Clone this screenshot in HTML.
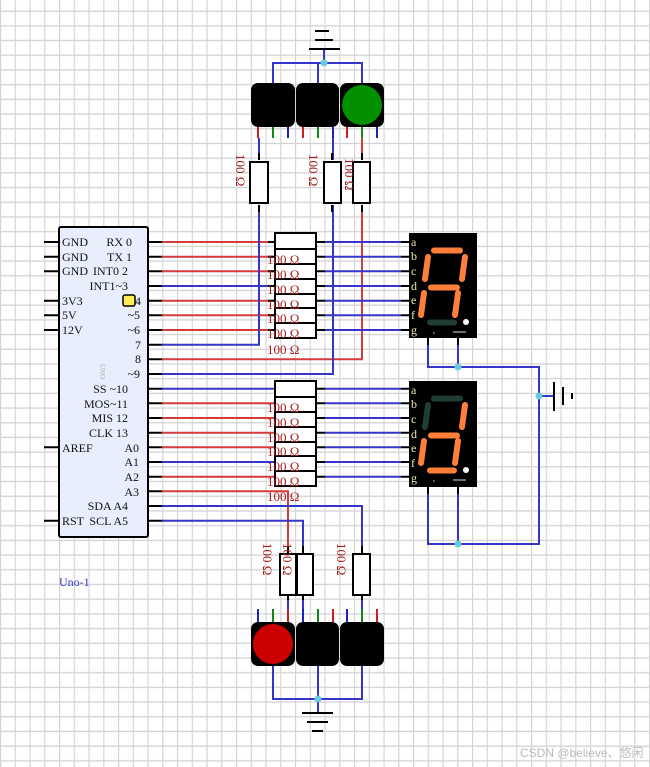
<!DOCTYPE html>
<html><head><meta charset="utf-8"><style>
html,body{margin:0;padding:0;background:#fff}
svg{display:block}
text{font-family:"Liberation Serif",serif}
</style></head><body>
<svg width="650" height="767" viewBox="0 0 650 767" xmlns="http://www.w3.org/2000/svg">
<defs>
<pattern id="g" x="0" y="-2" width="14.75" height="14.7" patternUnits="userSpaceOnUse">
<path d="M0.5 0V14.7M0 13.2H14.75" stroke="#d4d4d4" stroke-width="1.3" fill="none"/>
</pattern>
</defs>
<rect width="650" height="767" fill="url(#g)"/>

<!-- Arduino -->
<rect x="59" y="227" width="89" height="310" rx="2" fill="#e8eefc" stroke="#000" stroke-width="2"/>
<g stroke="#000" stroke-width="2">
<path d="M44 242H59M44 256.7H59M44 271.3H59M44 300.7H59M44 315.3H59M44 330H59M44 447.3H59M44 520.7H59"/>
<path d="M148 242H162M148 256.7H162M148 271.3H162M148 286H162M148 300.7H162M148 315.3H162M148 330H162M148 344.7H162M148 359.3H162M148 374H162M148 388.7H162M148 403.3H162M148 418H162M148 432.7H162M148 447.3H162M148 462H162M148 476.7H162M148 491.3H162M148 506H162M148 520.7H162"/>
</g>
<g font-size="12" fill="#111">
<text x="62" y="246">GND</text><text x="62" y="261">GND</text><text x="62" y="275">GND</text>
<text x="62" y="305">3V3</text><text x="62" y="319">5V</text><text x="62" y="334">12V</text>
<text x="62" y="452">AREF</text><text x="62" y="525">RST</text>
</g>
<g font-size="12" fill="#111" text-anchor="end">
<text x="132" y="246">RX 0</text><text x="132" y="261">TX 1</text><text x="128" y="275">INT0 2</text>
<text x="128" y="290">INT1~3</text><text x="141" y="305">4</text><text x="140" y="319">~5</text>
<text x="140" y="334">~6</text><text x="141" y="349">7</text><text x="141" y="363">8</text>
<text x="140" y="378">~9</text><text x="128" y="393">SS ~10</text><text x="128" y="408">MOS~11</text>
<text x="128" y="422">MIS 12</text><text x="128" y="437">CLK 13</text><text x="139" y="452">A0</text>
<text x="139" y="466">A1</text><text x="139" y="481">A2</text><text x="139" y="496">A3</text>
<text x="128" y="510">SDA A4</text><text x="128" y="525">SCL A5</text>
</g>
<rect x="123" y="295" width="12" height="11" rx="2" fill="#ffee55" stroke="#000" stroke-width="1.5"/>
<text x="100" y="364" font-size="7" fill="#aaa" transform="rotate(90 100 364)">UNO</text>
<text x="59" y="586" font-size="12" fill="#3333cc">Uno-1</text>

<!-- wires from Arduino -->
<g stroke-width="2" fill="none">
<g stroke="#d63a3a">
<path d="M162 242H275M162 256.7H275M162 271.3H275M162 300.7H275M162 315.3H275M162 330H275"/>
<path d="M162 359.3H362V205"/>
<path d="M162 403.3H275M162 418H275M162 432.7H275M162 447.3H275M162 476.7H275"/>
<path d="M162 491.3H288V553"/>
<path d="M362 138V160"/>
</g>
<g stroke="#3535cc">
<path d="M162 286H275"/>
<path d="M162 344.7H259V205"/>
<path d="M162 374H333V205"/>
<path d="M162 388.7H275M162 462H275"/>
<path d="M162 506H362V553"/>
<path d="M162 520.7H303V553"/>
<path d="M259 138V160M333 138V160"/>
<path d="M303 594V609M362 594V609"/>
<path d="M325 242H401M325 256.7H401M325 271.3H401M325 286H401M325 300.7H401M325 315.3H401M325 330H401"/>
<path d="M325 388.7H401M325 403.3H401M325 418H401M325 432.7H401M325 447.3H401M325 462H401M325 476.7H401"/>
<path d="M428 338V367H458V338M458 367H539V544H458V487M458 544H428V487"/>
<path d="M539 396H553"/>
<path d="M273 83V63H362V83M318 83V63M324 63V50"/>
<path d="M273 666V699H362V666M318 666V712"/>
<path d="M288 594V609"/>
</g>
</g>
<!-- black stubs -->
<g stroke="#000" stroke-width="2">
<path d="M316 242H325M316 256.7H325M316 271.3H325M316 286H325M316 300.7H325M316 315.3H325M316 330H325"/>
<path d="M316 388.7H325M316 403.3H325M316 418H325M316 432.7H325M316 447.3H325M316 462H325M316 476.7H325"/>
<path d="M401 242H410M401 256.7H410M401 271.3H410M401 286H410M401 300.7H410M401 315.3H410M401 330H410"/>
<path d="M401 388.7H410M401 403.3H410M401 418H410M401 432.7H410M401 447.3H410M401 462H410M401 476.7H410"/>
<path d="M268 242H275M268 256.7H275M268 271.3H275M268 286H275M268 300.7H275M268 315.3H275M268 330H275"/>
</g>

<!-- resistor packs -->
<g fill="#fff" stroke="#000" stroke-width="2">
<rect x="275" y="233" width="41" height="16"/>
<rect x="275" y="249" width="41" height="15"/><rect x="275" y="264" width="41" height="15"/>
<rect x="275" y="279" width="41" height="15"/><rect x="275" y="294" width="41" height="14"/>
<rect x="275" y="308" width="41" height="15"/><rect x="275" y="323" width="41" height="15"/>
<rect x="275" y="381" width="41" height="16"/>
<rect x="275" y="397" width="41" height="15"/><rect x="275" y="412" width="41" height="15"/>
<rect x="275" y="427" width="41" height="15"/><rect x="275" y="442" width="41" height="14"/>
<rect x="275" y="456" width="41" height="15"/><rect x="275" y="471" width="41" height="15"/>
</g>
<g font-size="13" fill="#a02020">
<text x="267" y="264">100  Ω</text><text x="267" y="279">100  Ω</text><text x="267" y="294">100  Ω</text>
<text x="267" y="309">100  Ω</text><text x="267" y="323">100  Ω</text><text x="267" y="338">100  Ω</text>
<text x="267" y="354">100  Ω</text>
<text x="267" y="412">100  Ω</text><text x="267" y="427">100  Ω</text><text x="267" y="442">100  Ω</text>
<text x="267" y="456">100  Ω</text><text x="267" y="471">100  Ω</text><text x="267" y="486">100  Ω</text>
<text x="267" y="501">100  Ω</text>
</g>

<!-- single resistors -->
<g stroke="#000" stroke-width="2" fill="#fff">
<path d="M259 153V160M259 205V212M332 153V160M332 205V212M362 153V160M362 205V212" fill="none"/>
<rect x="250" y="162" width="18" height="41"/>
<rect x="324" y="162" width="17" height="41"/>
<rect x="353" y="162" width="17" height="41"/>
<path d="M288 546V555M288 594V600M303 546V555M303 594V600M362 546V555M362 594V600" fill="none"/>
<rect x="280" y="554" width="16" height="41"/>
<rect x="297" y="554" width="16" height="41"/>
<rect x="353" y="554" width="17" height="41"/>
</g>
<g font-size="13" fill="#a02020">
<text transform="translate(236,154) rotate(90)">100  Ω</text>
<text transform="translate(309,154) rotate(90)">100  Ω</text>
<text transform="translate(345,158) rotate(90)">100  Ω</text>
<text transform="translate(263,543) rotate(90)">100  Ω</text>
<text transform="translate(283,543) rotate(90)">100  Ω</text>
<text transform="translate(337,543) rotate(90)">100  Ω</text>
</g>

<!-- top LEDs -->
<g stroke-width="2">
<path d="M258 127V138" stroke="#cc2020"/><path d="M273 127V138" stroke="#118811"/><path d="M288 127V138" stroke="#2222bb"/>
<path d="M303 127V138" stroke="#cc2020"/><path d="M318 127V138" stroke="#118811"/><path d="M333 127V138" stroke="#2222bb"/>
<path d="M347 127V138" stroke="#cc2020"/><path d="M362 127V138" stroke="#118811"/><path d="M377 127V138" stroke="#2222bb"/>
</g>
<rect x="251" y="83" width="44" height="44" rx="7" fill="#000"/>
<rect x="296" y="83" width="43" height="44" rx="7" fill="#000"/>
<rect x="340" y="83" width="44" height="44" rx="7" fill="#000"/>
<circle cx="362" cy="105" r="20" fill="#009000"/>
<g stroke="#000" stroke-width="2">
<path d="M315 31H329M315 40H333M309 49H340"/>
</g>
<circle cx="324" cy="63" r="3.5" fill="#66ccdd"/>

<!-- bottom LEDs -->
<g stroke-width="2">
<path d="M258 609V622" stroke="#2222bb"/><path d="M273 609V622" stroke="#118811"/><path d="M288 609V622" stroke="#cc2020"/>
<path d="M303 609V622" stroke="#2222bb"/><path d="M318 609V622" stroke="#118811"/><path d="M333 609V622" stroke="#cc2020"/>
<path d="M347 609V622" stroke="#2222bb"/><path d="M362 609V622" stroke="#118811"/><path d="M377 609V622" stroke="#cc2020"/>
</g>
<rect x="251" y="622" width="44" height="44" rx="7" fill="#000"/>
<rect x="296" y="622" width="43" height="44" rx="7" fill="#000"/>
<rect x="340" y="622" width="44" height="44" rx="7" fill="#000"/>
<circle cx="273" cy="644" r="20" fill="#cc0000"/>
<g stroke="#000" stroke-width="2">
<path d="M302 713H333M307 722H328M312 731H323"/>
</g>
<circle cx="318" cy="699" r="3.5" fill="#66ccdd"/>

<!-- 7-seg displays -->
<g>
<rect x="409" y="233" width="68" height="105" fill="#000"/>
<rect x="409" y="381" width="68" height="106" fill="#000"/>
<g font-size="12" fill="#eee8b0">
<text x="411" y="246">a</text><text x="411" y="260">b</text><text x="411" y="275">c</text><text x="411" y="290">d</text><text x="411" y="304">e</text><text x="411" y="319">f</text><text x="411" y="334">g</text>
<text x="411" y="394">a</text><text x="411" y="408">b</text><text x="411" y="423">c</text><text x="411" y="438">d</text><text x="411" y="452">e</text><text x="411" y="467">f</text><text x="411" y="482">g</text>
</g>
<g stroke-linecap="round" stroke-width="6" fill="none">
<g stroke="#ff7f3a">
<path d="M434 250.5H460M428 257L425 279M465 257L462 279M431 287.5H457M424 293L421 315M458 293L455 315"/>
</g>
<path d="M430 322.5H454" stroke="#1f3d33"/>
<path d="M434 398.5H460M428 405L425 427" stroke="#1f3d33"/>
<g stroke="#ff7f3a">
<path d="M465 405L462 427M431 435.5H457M424 441L421 463M458 441L455 463M430 470.5H454"/>
</g>
</g>
<circle cx="466" cy="322" r="3" fill="#fff"/>
<circle cx="466" cy="470" r="3" fill="#fff"/>
<g stroke="#ddd" stroke-width="1">
<path d="M433 333h1.5M453 332h13M433 481h1.5M453 480h13"/>
</g>
<g stroke="#000" stroke-width="2"><path d="M428 338V345M458 338V345M428 487V494M458 487V494"/></g>
</g>
<circle cx="458" cy="367" r="3.5" fill="#66ccdd"/>
<circle cx="458" cy="544" r="3.5" fill="#66ccdd"/>
<circle cx="539" cy="396" r="3.5" fill="#66ccdd"/>
<g stroke="#000" stroke-width="2"><path d="M554 382V411M563 387V405M572 393V399"/></g>

<text x="520" y="757" font-size="12" fill="#bbb" style="font-family:'Liberation Sans','Noto Sans CJK SC',sans-serif">CSDN @believe、悠闲</text>
</svg>
</body></html>
